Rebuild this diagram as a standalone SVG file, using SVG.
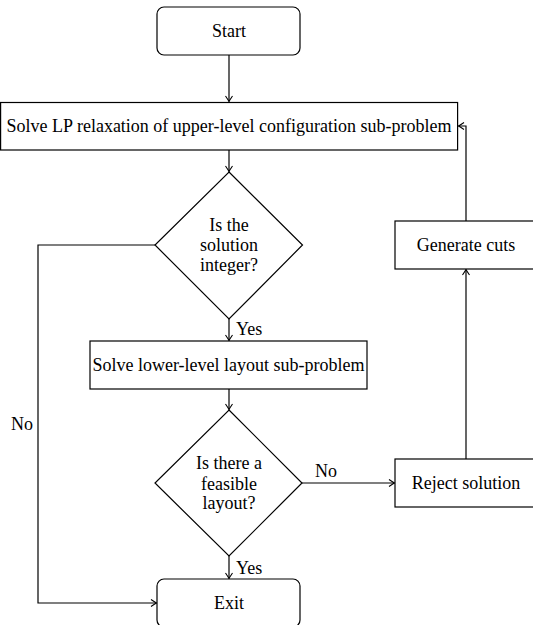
<svg xmlns="http://www.w3.org/2000/svg" width="533" height="625" viewBox="0 0 533 625">
<defs>
<marker id="arr" markerUnits="userSpaceOnUse" markerWidth="12" markerHeight="12" viewBox="-8 -6 10 12" refX="0" refY="0" orient="auto">
<path d="M -5.5,-3.5 Q -1.5,-0.8 0,0 Q -1.5,0.8 -5.5,3.5" fill="none" stroke="#000" stroke-width="1.1"/>
</marker>
</defs>
<style>
.box{fill:#fff;stroke:#000;stroke-width:1.2}
.t{font-family:"Liberation Serif","DejaVu Serif",serif;font-size:18px;fill:#000;text-anchor:middle}
.l{font-family:"Liberation Serif","DejaVu Serif",serif;font-size:18px;fill:#000}
.c{fill:none;stroke:#000;stroke-width:1.2;marker-end:url(#arr)}
</style>
<rect width="533" height="625" fill="#fff"/>
<g id="connectors">
<path class="c" d="M229,55 V101.5"/>
<path class="c" d="M229,150 V171.5"/>
<path class="c" d="M229,319 V340.5"/>
<path class="c" d="M229,389 V409.5"/>
<path class="c" d="M229,556 V578.5"/>
<path class="c" d="M155,245 H38 V603 H156.5"/>
<path class="c" d="M302,483 H394.5"/>
<path class="c" d="M466,459 V269.5"/>
<path class="c" d="M466,221 V126 H458.5"/>
<text class="l" x="236" y="335">Yes</text>
<text class="l" x="236" y="574">Yes</text>
<text class="l" x="11" y="430">No</text>
<text class="l" x="315" y="477">No</text>
</g>
<g id="start">
<rect class="box" x="157" y="7" width="143" height="48" rx="7"/>
<text class="t" x="229" y="37">Start</text>
</g>
<g id="lp">
<rect class="box" x="0.6" y="102.5" width="457" height="47.5"/>
<text class="t" x="229" y="132">Solve LP relaxation of upper-level configuration sub-problem</text>
</g>
<g id="integer">
<polygon class="box" points="229,172 302.5,245 229,319 155,245"/>
<text class="t" x="229" y="231">Is the</text>
<text class="t" x="229" y="251">solution</text>
<text class="t" x="229" y="271">integer?</text>
</g>
<g id="lower">
<rect class="box" x="90" y="341" width="277" height="48"/>
<text class="t" x="228.5" y="371">Solve lower-level layout sub-problem</text>
</g>
<g id="feasible">
<polygon class="box" points="229,410 302,483 229,556 155,483"/>
<text class="t" x="229" y="469">Is there a</text>
<text class="t" x="229" y="489.5">feasible</text>
<text class="t" x="229" y="509">layout?</text>
</g>
<g id="reject">
<rect class="box" x="395" y="459" width="142" height="48"/>
<text class="t" x="466" y="489">Reject solution</text>
</g>
<g id="cuts">
<rect class="box" x="395" y="221" width="142" height="48"/>
<text class="t" x="466" y="251">Generate cuts</text>
</g>
<g id="exit">
<rect class="box" x="157" y="579" width="143" height="48" rx="7"/>
<text class="t" x="229" y="609">Exit</text>
</g>
</svg>
